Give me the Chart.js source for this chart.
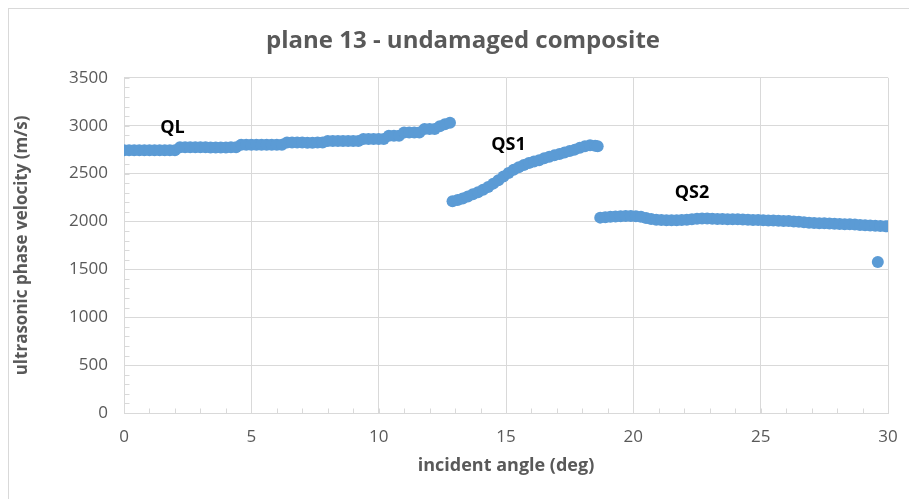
<!DOCTYPE html>
<html>
<head>
<meta charset="utf-8">
<script src="https://cdn.jsdelivr.net/npm/chart.js@4"></script>
<style>
  html, body { margin: 0; padding: 0; overflow: hidden; background: #fff; }
  #frame { position: absolute; left: 8px; top: 8px; width: 908px; height: 490px; border: 1px solid #d9d9d9; }
  #c { display: block; }
</style>
</head>
<body>
<div id="frame"><canvas id="c" width="908" height="490"></canvas></div>
<script>
// ---- data ----
const chartTitle = 'plane 13 - undamaged composite';
const xAxisTitle = 'incident angle (deg)';
const yAxisTitle = 'ultrasonic phase velocity (m/s)';
const xTicks = [0, 5, 10, 15, 20, 25, 30];
const yTicks = [0, 500, 1000, 1500, 2000, 2500, 3000, 3500];

const qlAngle = [0, 0.2, 0.4, 0.6, 0.8, 1.0, 1.2, 1.4, 1.6, 1.8, 2.0,
  2.2, 2.4, 2.6, 2.8, 3.0, 3.2, 3.4, 3.6, 3.8, 4.0, 4.2, 4.4,
  4.6, 4.8, 5.0, 5.2, 5.4, 5.6, 5.8, 6.0, 6.2,
  6.4, 6.6, 6.8, 7.0, 7.2, 7.4, 7.6, 7.8,
  8.0, 8.2, 8.4, 8.6, 8.8, 9.0, 9.2,
  9.4, 9.6, 9.8, 10.0, 10.2,
  10.4, 10.6, 10.8,
  11.0, 11.2, 11.4, 11.6,
  11.8, 12.0, 12.2,
  12.4, 12.6, 12.8];
const qlVelocity = [2743, 2743, 2743, 2743, 2743, 2743, 2743, 2743, 2743, 2743, 2743,
  2775, 2775, 2775, 2775, 2775, 2775, 2772, 2772, 2772, 2772, 2775, 2775,
  2800, 2800, 2800, 2800, 2800, 2800, 2800, 2800, 2800,
  2825, 2825, 2825, 2825, 2822, 2822, 2825, 2825,
  2840, 2840, 2840, 2840, 2840, 2840, 2840,
  2860, 2860, 2860, 2860, 2860,
  2895, 2895, 2895,
  2930, 2930, 2930, 2930,
  2965, 2965, 2965,
  2995, 3015, 3030];

const qs1Angle = [12.9, 13.1, 13.3, 13.5, 13.7, 13.9, 14.1, 14.3, 14.5, 14.7, 14.9,
  15.1, 15.3, 15.5, 15.7, 15.9, 16.1, 16.3, 16.5, 16.7, 16.9,
  17.1, 17.3, 17.5, 17.7, 17.9, 18.1, 18.3, 18.5, 18.6];
const qs1Velocity = [2210, 2225, 2240, 2260, 2285, 2305, 2330, 2360, 2395, 2430, 2470,
  2505, 2540, 2565, 2590, 2610, 2625, 2640, 2660, 2675, 2690,
  2705, 2720, 2735, 2750, 2770, 2785, 2795, 2790, 2785];

const qs2Angle = [18.7, 18.9, 19.1, 19.3, 19.5, 19.7, 19.9, 20.1, 20.3, 20.5, 20.7, 20.9,
  21.1, 21.3, 21.5, 21.7, 21.9, 22.1, 22.3, 22.5, 22.7, 22.9,
  23.1, 23.3, 23.5, 23.7, 23.9, 24.1, 24.3, 24.5, 24.7, 24.9,
  25.1, 25.3, 25.5, 25.7, 25.9, 26.1, 26.3, 26.5, 26.7, 26.9,
  27.1, 27.3, 27.5, 27.7, 27.9, 28.1, 28.3, 28.5, 28.7, 28.9,
  29.1, 29.3, 29.5, 29.7, 29.9, 30.0, 29.6];
const qs2Velocity = [2040, 2045, 2048, 2052, 2055, 2058, 2058, 2055, 2048, 2035, 2025, 2018,
  2015, 2013, 2012, 2012, 2015, 2018, 2024, 2028, 2030, 2030,
  2028, 2026, 2025, 2024, 2023, 2022, 2020, 2018, 2016, 2014,
  2012, 2011, 2010, 2008, 2006, 2004, 2000, 1996, 1992, 1987,
  1984, 1982, 1980, 1978, 1976, 1974, 1972, 1970, 1967, 1964,
  1961, 1958, 1955, 1952, 1950, 1950, 1576];

const seriesLabels = ['QL', 'QS1', 'QS2'];
const labelAngles = [1.9, 15.1, 22.3];
const labelVelocities = [2972, 2800, 2295];

// ---- build ----
const toPoints = (xs, ys) => xs.map((x, i) => ({ x: x, y: ys[i] }));
const allPoints = [].concat(
  toPoints(qlAngle, qlVelocity),
  toPoints(qs1Angle, qs1Velocity),
  toPoints(qs2Angle, qs2Velocity)
);

const gridColor = '#d9d9d9';
const textColor = '#595959';
const FONT = "'Open Sans', 'DejaVu Sans', sans-serif";

const decorPlugin = {
  id: 'decor',
  beforeDatasetsDraw(chart) {
    const { ctx, scales: { x, y } } = chart;
    ctx.save();
    ctx.strokeStyle = gridColor;
    ctx.lineWidth = 1;
    ctx.beginPath();
    const yb = Math.round(y.getPixelForValue(y.min)) + 0.5;
    for (let v = x.min; v <= x.max; v += 1) {
      const px = Math.round(x.getPixelForValue(v)) + 0.5;
      ctx.moveTo(px, yb); ctx.lineTo(px, yb - 5);
    }
    const xl = Math.round(x.getPixelForValue(x.min)) + 0.5;
    for (let v = y.min; v <= y.max; v += 100) {
      const py = Math.round(y.getPixelForValue(v)) + 0.5;
      ctx.moveTo(xl, py); ctx.lineTo(xl + 5, py);
    }
    ctx.stroke();
    ctx.restore();
  },
  afterDatasetsDraw(chart) {
    const { ctx, scales: { x, y } } = chart;
    ctx.save();
    ctx.fillStyle = '#000000';
    ctx.font = "bold 18px " + FONT;
    ctx.textAlign = 'center';
    ctx.textBaseline = 'middle';
    seriesLabels.forEach((t, i) => {
      ctx.fillText(t, x.getPixelForValue(labelAngles[i]), y.getPixelForValue(labelVelocities[i]));
    });
    ctx.restore();
  }
};

new Chart(document.getElementById('c'), {
  type: 'scatter',
  data: {
    datasets: [{
      data: allPoints,
      backgroundColor: '#5b9bd5',
      borderColor: '#5b9bd5',
      borderWidth: 0,
      pointRadius: 6,
      pointHoverRadius: 6
    }]
  },
  options: {
    responsive: false,
    animation: false,
    events: [],
    layout: { padding: 0 },
    plugins: {
      legend: { display: false },
      tooltip: { enabled: false },
      title: {
        display: true,
        text: chartTitle,
        color: textColor,
        font: { family: FONT, size: 24, weight: 'bold' },
        padding: { top: 18, bottom: 22 }
      }
    },
    scales: {
      x: {
        type: 'linear',
        min: 0, max: 30,
        afterBuildTicks: s => { s.ticks = xTicks.map(v => ({ value: v })); },
        afterFit: s => { s.height = 86; },
        grid: { color: gridColor, drawTicks: false, lineWidth: 1 },
        border: { color: gridColor },
        ticks: { color: textColor, font: { family: FONT, size: 17 }, padding: 14, maxRotation: 0, callback: v => String(v) },
        title: {
          display: true, text: xAxisTitle, color: textColor,
          font: { family: FONT, size: 18, weight: 'bold' },
          padding: { top: 0, bottom: 22 }
        }
      },
      y: {
        type: 'linear',
        min: 0, max: 3500,
        afterBuildTicks: s => { s.ticks = yTicks.map(v => ({ value: v })); },
        afterFit: s => { s.width = 115; },
        grid: { color: gridColor, drawTicks: false, lineWidth: 1 },
        border: { color: gridColor },
        ticks: { color: textColor, font: { family: FONT, size: 17 }, padding: 16, callback: v => String(v) },
        title: {
          display: true, text: yAxisTitle, color: textColor,
          font: { family: FONT, size: 17, weight: 'bold' },
          padding: { top: 3, bottom: 0 }
        }
      },
      rightSpace: {
        type: 'linear',
        position: 'right',
        display: true,
        afterFit: s => { s.width = 29; },
        grid: { display: false, drawTicks: false },
        border: { display: false },
        ticks: { display: false },
        title: { display: false }
      }
    }
  },
  plugins: [decorPlugin]
});
</script>
</body>
</html>
